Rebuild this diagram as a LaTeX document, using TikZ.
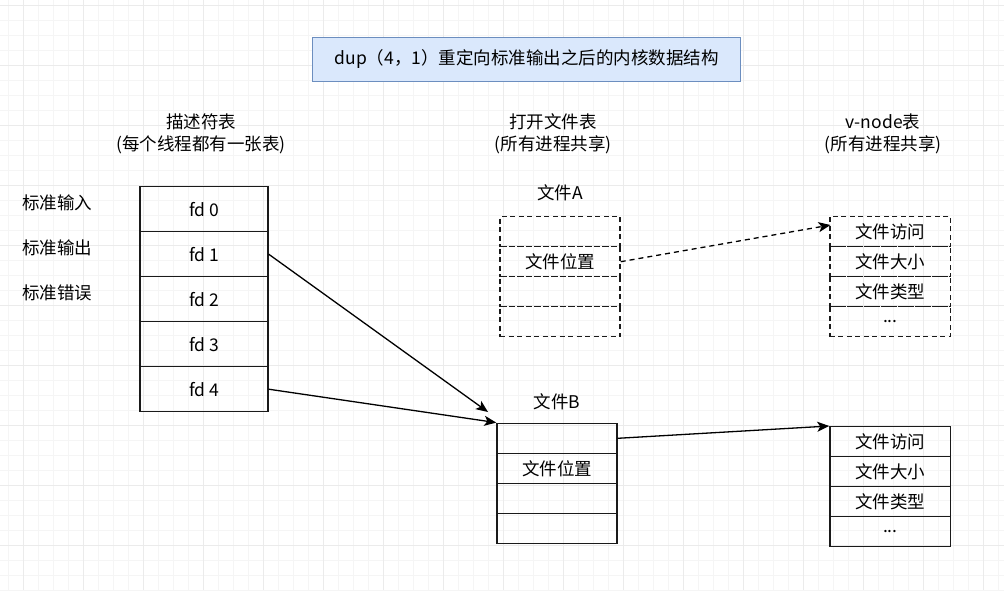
\documentclass[tikz,border=0pt]{standalone}
\usepackage{fontspec}
\setmainfont{Noto Sans CJK SC}
\usetikzlibrary{arrows.meta}
\definecolor{titlefill}{HTML}{DAE8FC}
\definecolor{titledraw}{HTML}{6C8EBF}
\definecolor{gridminor}{HTML}{F5F5F5}
\definecolor{gridmajor}{HTML}{EBEBEB}
\definecolor{ink}{HTML}{1A1A1A}
\begin{document}
\begin{tikzpicture}[x=1pt,y=-1pt,
  every node/.style={font=\fontsize{17.5}{22}\selectfont, text=black},
  cell/.style={draw=ink, line width=1.4pt, rectangle, inner sep=0pt, anchor=center},
  fdcell/.style={cell, minimum width=128pt, minimum height=45pt},
  ftcell/.style={cell, minimum width=120pt, minimum height=30pt},
  vncell/.style={cell, minimum width=120.7pt, minimum height=30pt},
  dashcell/.style={dash pattern=on 5pt off 3.5pt},
  plain/.style={inner sep=0pt, align=center},
  link/.style={line width=1.3pt, draw=black, -{Stealth[length=12pt,width=10pt,inset=3pt]}},
  titlebox/.style={draw=titledraw, fill=titlefill, line width=1.3pt, minimum width=428pt, minimum height=44.4pt, inner sep=0pt}
]
\useasboundingbox (0,0) rectangle (1004,590);
\fill[white] (0,0) rectangle (1004,590);
% grid
\foreach \gx in {8,23,...,1004} {\draw[gridminor, line width=0.8pt] (\gx,0) -- (\gx,590);}
\foreach \gy in {5,20,...,590} {\draw[gridminor, line width=0.8pt] (0,\gy) -- (1004,\gy);}
\foreach \gx in {23,83,...,1004} {\draw[gridmajor, line width=0.9pt] (\gx,0) -- (\gx,590);}
\foreach \gy in {5,65,...,590} {\draw[gridmajor, line width=0.9pt] (0,\gy) -- (1004,\gy);}

% title
\node[titlebox] (title) at (526.7,59.5) {dup（4，1）重定向标准输出之后的内核数据结构};

% headers
\node[plain] (hfd) at (201,134) {描述符表\\(每个线程都有一张表)};
\node[plain] (hft) at (553,134) {打开文件表\\(所有进程共享)};
\node[plain] (hvn) at (883,134) {v-node表\\(所有进程共享)};

% left labels
\node[plain] (lin) at (57,203) {标准输入};
\node[plain] (lout) at (57,248) {标准输出};
\node[plain] (lerr) at (57,293) {标准错误};

% descriptor table
\node[fdcell] (fd0) at (204,209.2) {fd 0};
\node[fdcell] (fd1) at (204,254.2) {fd 1};
\node[fdcell] (fd2) at (204,299.2) {fd 2};
\node[fdcell] (fd3) at (204,344.2) {fd 3};
\node[fdcell] (fd4) at (204,389.2) {fd 4};

% file A
\node[plain] (fAlabel) at (560,193) {文件A};
\node[ftcell, dashcell] (fA0) at (560,231.7) {};
\node[ftcell, dashcell] (fA1) at (560,261.7) {文件位置};
\node[ftcell, dashcell] (fA2) at (560,291.7) {};
\node[ftcell, dashcell] (fA3) at (560,321.7) {};

% v-node A
\node[vncell, dashcell] (vA0) at (890.3,231.7) {文件访问};
\node[vncell, dashcell] (vA1) at (890.3,261.7) {文件大小};
\node[vncell, dashcell] (vA2) at (890.3,291.7) {文件类型};
\node[vncell, dashcell] (vA3) at (890.3,321.7) {...};

% file B
\node[plain] (fBlabel) at (557,402) {文件B};
\node[ftcell] (fB0) at (557,438.3) {};
\node[ftcell] (fB1) at (557,468.3) {文件位置};
\node[ftcell] (fB2) at (557,498.3) {};
\node[ftcell] (fB3) at (557,528.3) {};

% v-node B
\node[vncell] (vB0) at (890.3,441.7) {文件访问};
\node[vncell] (vB1) at (890.3,471.7) {文件大小};
\node[vncell] (vB2) at (890.3,501.7) {文件类型};
\node[vncell] (vB3) at (890.3,531.7) {...};

% connector ends
\coordinate (fBin) at (488,412);
\coordinate (vAin) at (830.5,225);

% connectors
\draw[link] (fd1.east) -- (fBin);
\draw[link] (fd4.east) -- (fB0.north west);
\draw[link, dash pattern=on 5pt off 4pt] (fA1.east) -- (vAin);
\draw[link] (fB0.east) -- (vB0.north west);
\end{tikzpicture}
\end{document}
